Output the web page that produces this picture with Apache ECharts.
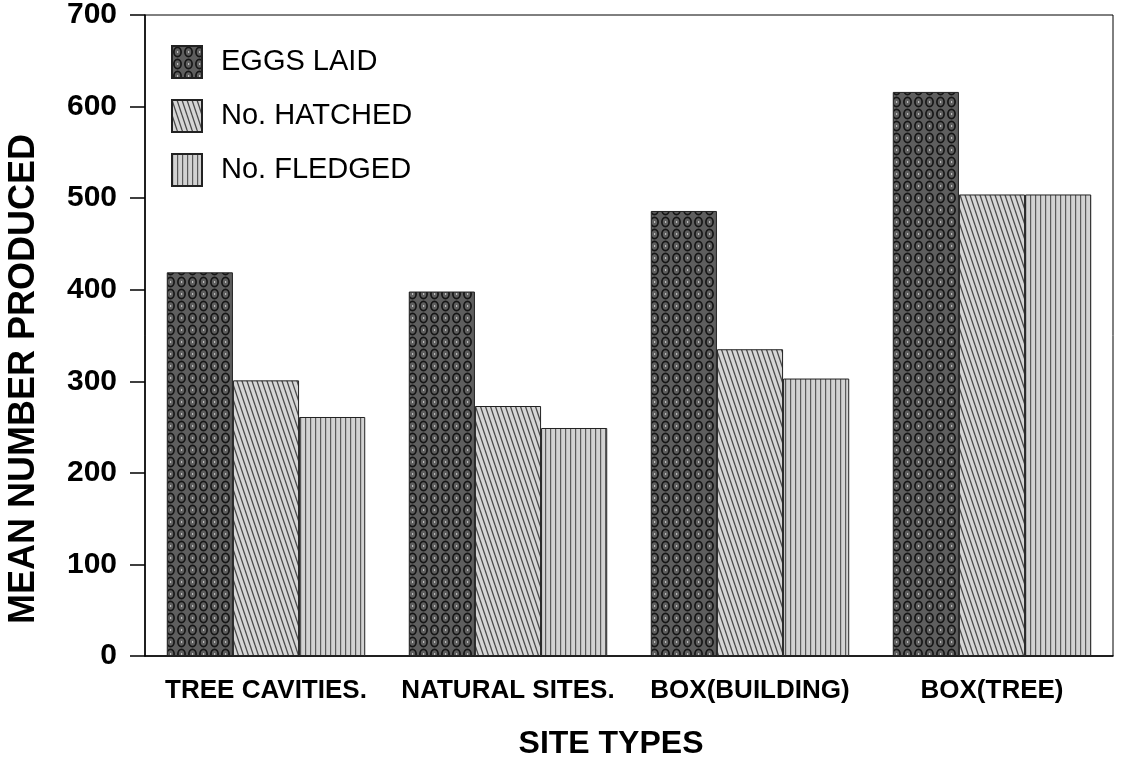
<!DOCTYPE html>
<html>
<head>
<meta charset="utf-8">
<script src="https://cdn.jsdelivr.net/npm/echarts@6/dist/echarts.min.js"></script>
<style>
  html, body { margin: 0; padding: 0; background: #fff; }
  #chart { width: 1121px; height: 770px; }
</style>
</head>
<body>
<div id="chart"></div>
<script>
const categories = ['TREE CAVITIES.', 'NATURAL SITES.', 'BOX(BUILDING)', 'BOX(TREE)']
const seriesNames = ['EGGS LAID', 'No. HATCHED', 'No. FLEDGED']
const eggsLaid = [419, 398, 486, 616]
const hatched = [301, 273, 335, 504]
const fledged = [261, 249, 303, 504]
const yTicks = [0, 100, 200, 300, 400, 500, 600, 700]

// fill patterns, drawn once on small canvases
function eggsPattern() {
  const c = document.createElement('canvas')
  c.width = 11
  c.height = 12
  const ctx = c.getContext('2d')
  ctx.fillStyle = '#5e5e5e'
  ctx.fillRect(0, 0, 11, 12)
  ctx.strokeStyle = '#151515'
  ctx.lineWidth = 1.7
  ctx.beginPath()
  ctx.ellipse(5.5, 6, 3.6, 4.6, 0, 0, Math.PI * 2)
  ctx.stroke()
  ctx.fillStyle = '#bdbdbd'
  ctx.fillRect(5, 5, 1.2, 2)
  return c
}

function hatchPattern() {
  const c = document.createElement('canvas')
  c.width = 5
  c.height = 15
  const ctx = c.getContext('2d')
  ctx.fillStyle = '#d6d6d6'
  ctx.fillRect(0, 0, 5, 15)
  ctx.strokeStyle = '#4a4a4a'
  ctx.lineWidth = 1.3
  for (const x0 of [-5, 0, 5]) {
    ctx.beginPath()
    ctx.moveTo(x0, 0)
    ctx.lineTo(x0 + 5, 15)
    ctx.stroke()
  }
  return c
}

function vertPattern() {
  const c = document.createElement('canvas')
  c.width = 5
  c.height = 4
  const ctx = c.getContext('2d')
  ctx.fillStyle = '#d2d2d2'
  ctx.fillRect(0, 0, 5, 4)
  ctx.fillStyle = '#5a5a5a'
  ctx.fillRect(0, 0, 1.2, 4)
  return c
}

const fills = [eggsPattern(), hatchPattern(), vertPattern()]
const values = [eggsLaid, hatched, fledged]
const font = 'Liberation Sans, Arial, sans-serif'

const chart = echarts.init(document.getElementById('chart'))

chart.setOption({
  animation: false,
  textStyle: {
    fontFamily: font
  },
  grid: {
    top: 14,
    left: 145,
    right: 8,
    bottom: 114,
    show: true,
    borderColor: '#000',
    borderWidth: 1
  },
  legend: {
    orient: 'vertical',
    left: 166,
    top: 40,
    itemWidth: 30,
    itemHeight: 32,
    itemGap: 20,
    icon: 'rect',
    textStyle: {
      fontSize: 29,
      color: '#000',
      padding: [0, 0, 0, 14]
    },
    data: seriesNames
  },
  xAxis: {
    type: 'category',
    data: categories,
    name: 'SITE TYPES',
    nameLocation: 'middle',
    nameGap: 72,
    nameTextStyle: {
      fontSize: 32,
      fontWeight: 'bold',
      color: '#000',
      padding: [0, 36, 0, 0]
    },
    axisLine: { lineStyle: { color: '#000', width: 1.5 } },
    axisTick: { show: false },
    axisLabel: {
      interval: 0,
      color: '#000',
      fontSize: 26,
      fontWeight: 'bold',
      margin: 22
    }
  },
  yAxis: {
    type: 'value',
    min: 0,
    max: 700,
    interval: 100,
    axisLine: { show: true, lineStyle: { color: '#000', width: 1.5 } },
    axisTick: { show: true, length: 15, lineStyle: { color: '#000', width: 1.5 } },
    splitLine: { show: false },
    axisLabel: {
      color: '#000',
      fontSize: 30,
      fontWeight: 'bold',
      margin: 28,
      customValues: yTicks
    }
  },
  graphic: [
    {
      type: 'text',
      left: 6,
      top: 134,
      rotation: Math.PI / 2,
      style: {
        text: 'MEAN NUMBER PRODUCED',
        fontSize: 36,
        fontWeight: 'bold',
        fontFamily: font,
        fill: '#000'
      }
    }
  ],
  series: seriesNames.map((name, i) => ({
    name,
    type: 'bar',
    barGap: '0%',
    barCategoryGap: '18%',
    data: values[i],
    itemStyle: {
      color: { image: fills[i], repeat: 'repeat' },
      borderColor: '#222',
      borderWidth: 1
    }
  }))
})
</script>
</body>
</html>
